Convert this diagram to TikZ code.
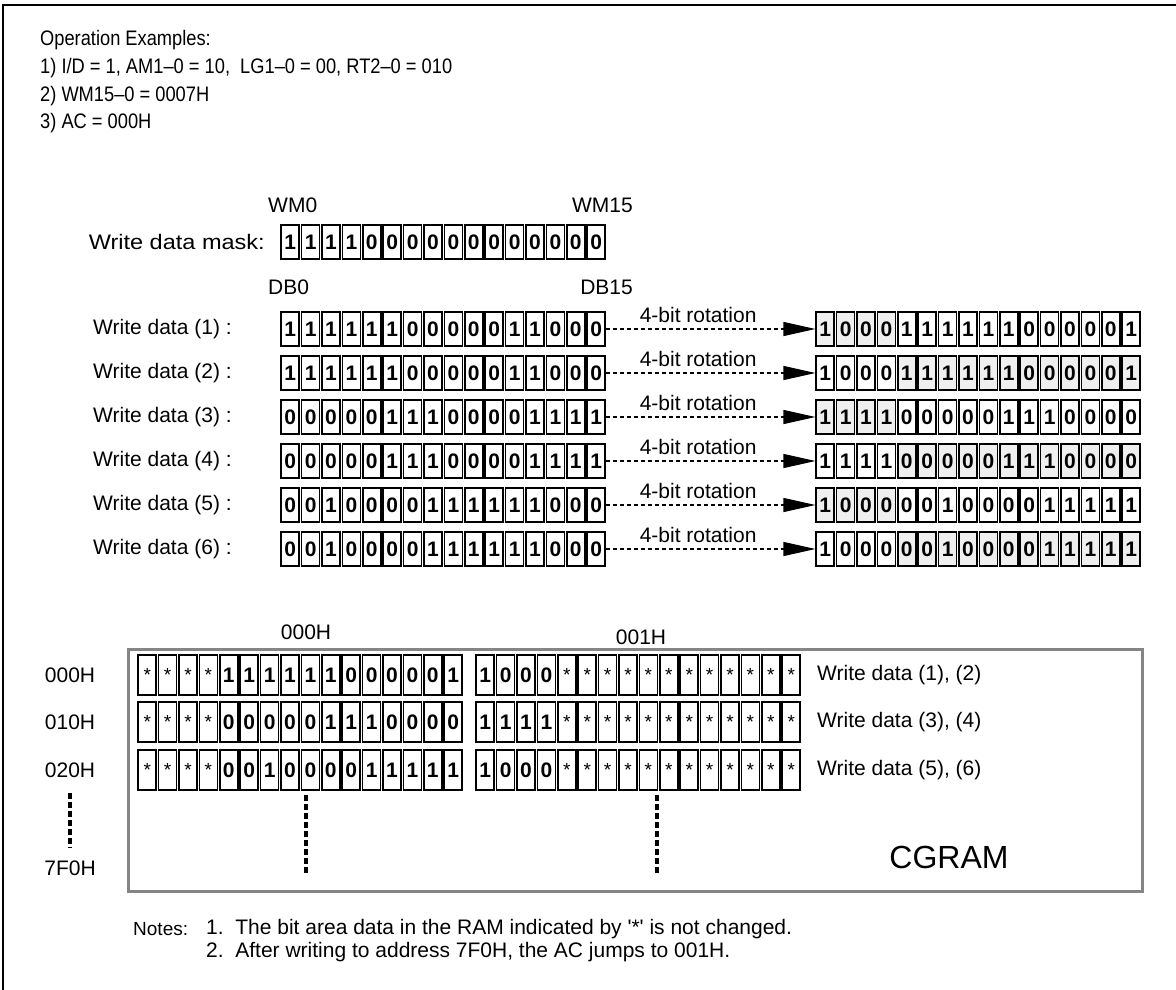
\documentclass[tikz,border=0pt]{standalone}
\usepackage{fontspec}
\setmainfont{Liberation Sans}
\usetikzlibrary{arrows.meta}
\definecolor{shade}{HTML}{EFEFEF}
\definecolor{boxgray}{HTML}{858585}
\newcommand{\bitrow}[7]{%
  \edef\myblist{#4}%
  \foreach \b [count=\i] in \myblist {%
    \pgfmathsetmacro{\cx}{#2+(\i-0.5)*20.4}%
    \pgfmathtruncatemacro{\sh}{and(\i>=#5,\i<=#6)}%
    \ifnum\sh=1 \def\fc{shade}\else\def\fc{white}\fi
    \if s\b
      \node[starcell,#7,fill=\fc] (#1-\i) at (\cx,#3) {*};
    \else
      \node[bitcell,#7,fill=\fc] (#1-\i) at (\cx,#3) {\b};
    \fi
  }}
\newcommand{\hd}[1]{\scalebox{0.87}[1]{#1}}
\begin{document}
\begin{tikzpicture}[x=1pt,y=-1pt,
  cellbase/.style={draw, line width=1.5pt, minimum width=18pt, inner sep=0pt},
  bitcell/.style={cellbase, font=\fontsize{21}{21}\selectfont\bfseries},
  starcell/.style={cellbase, font=\fontsize{19}{19}\selectfont},
  datah/.style={minimum height=34pt},
  ramh/.style={minimum height=40pt},
  lbl/.style={font=\fontsize{21}{22}\selectfont, inner sep=0pt},
  head/.style={font=\fontsize{21}{22}\selectfont, inner sep=0pt, anchor=west},
  note/.style={font=\fontsize{21}{22}\selectfont, inner sep=0pt, anchor=west},
  rot/.style={dashed, dash pattern=on 4pt off 3pt, line width=1.1pt, -{Triangle[length=32pt,width=14pt]}},
  vdash/.style={line width=4pt, dash pattern=on 6pt off 3pt}
]
\useasboundingbox (0,0) rectangle (1176,990);
\draw[line width=1.5pt] (3,990) -- (3,5) -- (1176,5);

% header text
\node[head] (h0) at (40,40) {\hd{Operation Examples:}};
\node[head] (h1) at (40,68) {\hd{1) I/D = 1, AM1--0 = 10,\ \ LG1--0 = 00, RT2--0 = 010}};
\node[head] (h2) at (40,96) {\hd{2) WM15--0 = 0007H}};
\node[head] (h3) at (40,123) {\hd{3) AC = 000H}};

% mask
\node[lbl, anchor=west] (wm0) at (268,205) {WM0};
\node[lbl, anchor=east] (wm15) at (633,205) {WM15};
\node[lbl, anchor=east] (wml) at (265,242) {\scalebox{1.12}[1]{Write data mask:}};
\bitrow{m}{280}{242}{1,1,1,1,0,0,0,0,0,0,0,0,0,0,0,0}{0}{0}{datah}

\node[lbl, anchor=west] (db0) at (268,287) {DB0};
\node[lbl, anchor=east] (db15) at (633,287) {DB15};

% write data rows
\foreach \k/\lb/\rb/\s/\e in {
  1/{1,1,1,1,1,1,0,0,0,0,0,1,1,0,0,0}/{1,0,0,0,1,1,1,1,1,1,0,0,0,0,0,1}/1/4,
  2/{1,1,1,1,1,1,0,0,0,0,0,1,1,0,0,0}/{1,0,0,0,1,1,1,1,1,1,0,0,0,0,0,1}/5/16,
  3/{0,0,0,0,0,1,1,1,0,0,0,0,1,1,1,1}/{1,1,1,1,0,0,0,0,0,1,1,1,0,0,0,0}/1/4,
  4/{0,0,0,0,0,1,1,1,0,0,0,0,1,1,1,1}/{1,1,1,1,0,0,0,0,0,1,1,1,0,0,0,0}/5/16,
  5/{0,0,1,0,0,0,0,1,1,1,1,1,1,0,0,0}/{1,0,0,0,0,0,1,0,0,0,0,1,1,1,1,1}/1/4,
  6/{0,0,1,0,0,0,0,1,1,1,1,1,1,0,0,0}/{1,0,0,0,0,0,1,0,0,0,0,1,1,1,1,1}/5/16}{
  \pgfmathsetmacro{\yy}{329+(\k-1)*44}
  \node[lbl, anchor=west] (wd\k) at (93,\yy) {Write data (\k) :};
  \bitrow{L\k}{280}{\yy}{\lb}{0}{0}{datah}
  \bitrow{R\k}{815}{\yy}{\rb}{\s}{\e}{datah}
  \draw[rot] (L\k-16.east) -- node[lbl, pos=0.44, above=6pt] {4-bit rotation} (R\k-1.west);
}

% CGRAM
\node[draw=boxgray, line width=2.5pt, minimum width=1014pt, minimum height=242pt, inner sep=0pt, anchor=north west] (cgbox) at (127,648) {};
\node[font=\fontsize{32}{32}\selectfont, inner sep=0pt] (cgname) at (949,857) {CGRAM};
\node[lbl] (a000) at (306,632) {000H};
\node[lbl] (a001) at (641,637) {001H};

\node[lbl] (r0) at (70,675) {000H};
\node[lbl] (r1) at (70,722) {010H};
\node[lbl] (r2) at (70,770) {020H};
\node[lbl] (r3) at (70,868) {7F0H};

\bitrow{Ca}{137}{675}{s,s,s,s,1,1,1,1,1,1,0,0,0,0,0,1}{0}{0}{ramh}
\bitrow{Cb}{475}{675}{1,0,0,0,s,s,s,s,s,s,s,s,s,s,s,s}{0}{0}{ramh}
\bitrow{Da}{137}{722}{s,s,s,s,0,0,0,0,0,1,1,1,0,0,0,0}{0}{0}{ramh}
\bitrow{Db}{475}{722}{1,1,1,1,s,s,s,s,s,s,s,s,s,s,s,s}{0}{0}{ramh}
\bitrow{Ea}{137}{770}{s,s,s,s,0,0,1,0,0,0,0,1,1,1,1,1}{0}{0}{ramh}
\bitrow{Eb}{475}{770}{1,0,0,0,s,s,s,s,s,s,s,s,s,s,s,s}{0}{0}{ramh}

\node[lbl, anchor=west] (w12) at (817,675) {Write data (1), (2)};
\node[lbl, anchor=west] (w34) at (817,722) {Write data (3), (4)};
\node[lbl, anchor=west] (w56) at (817,770) {Write data (5), (6)};

\coordinate (d0a) at (70,793); \coordinate (d0b) at (70,848);
\coordinate (d1a) at (306,795); \coordinate (d1b) at (306,873);
\coordinate (d2a) at (657,795); \coordinate (d2b) at (657,873);
\draw[vdash] (d0a) -- (d0b);
\draw[vdash] (d1a) -- (d1b);
\draw[vdash] (d2a) -- (d2b);

% notes
\node[note, font=\fontsize{19}{22}\selectfont] (n0) at (133,929) {Notes:};
\node[note] (n1) at (206,929) {1.\ \ The bit area data in the RAM indicated by \textquotesingle*\textquotesingle\ is not changed.};
\node[note] (n2) at (206,952) {2.\ \ After writing to address 7F0H, the AC jumps to 001H.};
\end{tikzpicture}
\end{document}
